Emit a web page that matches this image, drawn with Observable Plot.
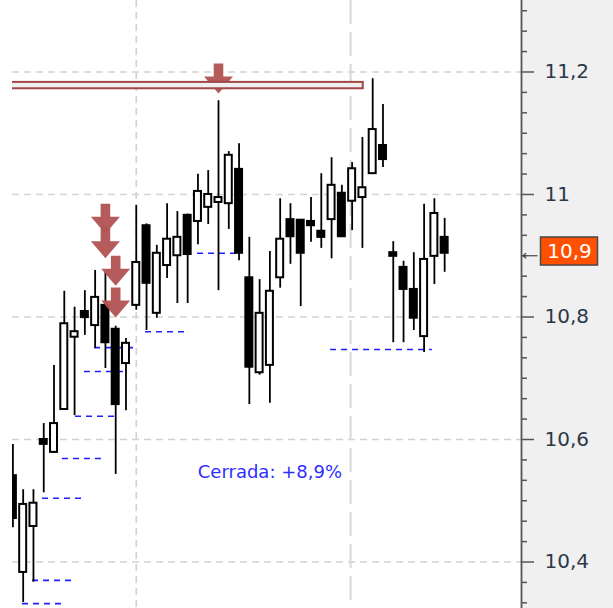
<!DOCTYPE html>
<html><head><meta charset="utf-8">
<script src="https://cdn.jsdelivr.net/npm/d3@7"></script>
<script src="https://cdn.jsdelivr.net/npm/@observablehq/plot@0.6"></script>
<style>
html,body{margin:0;padding:0;background:#fff;}
#chart svg{display:block;}
</style>
</head><body><div id="chart"></div>
<script>
// ---- data ----
const openV  = [10.541,10.383,10.458,10.600,10.579,10.649,10.767,10.809,10.786,10.819,10.780,10.724,10.819,10.949,10.806,10.884,10.900,10.966,10.956,10.979,10.987,10.985,11.041,10.864,10.709,10.721,10.864,10.959,10.958,10.956,10.940,10.959,11.002,10.989,10.995,11.034,11.080,10.905,10.881,10.845,10.768,10.899,10.930];
const highV  = [10.592,10.518,10.518,10.626,10.721,10.842,10.816,10.843,10.876,10.873,10.785,10.765,10.982,10.952,10.917,10.985,10.972,10.968,11.033,11.039,11.153,11.070,11.083,10.930,10.861,10.907,10.993,10.985,10.958,10.995,11.034,11.060,11.015,11.052,11.093,11.189,11.147,10.923,10.891,10.905,10.984,10.993,10.961];
const lowV   = [10.456,10.334,10.367,10.513,10.577,10.649,10.639,10.770,10.749,10.716,10.543,10.647,10.811,10.778,10.798,10.863,10.822,10.822,10.918,10.951,10.843,10.943,10.892,10.657,10.705,10.659,10.847,10.886,10.817,10.922,10.912,10.895,10.931,10.941,10.912,11.034,11.044,10.758,10.758,10.778,10.742,10.853,10.873];
const closeV = [10.471,10.494,10.496,10.592,10.626,10.789,10.776,10.799,10.832,10.758,10.657,10.757,10.889,10.855,10.904,10.927,10.930,10.902,11.005,11.000,10.995,11.064,10.904,10.718,10.806,10.842,10.927,10.931,10.904,10.949,10.930,11.015,10.931,11.042,11.011,11.106,11.057,10.899,10.845,10.798,10.894,10.969,10.904];

// support levels (blue dashed): value, first bar, last bar
const levelValue = [10.332,10.370,10.504,10.569,10.638,10.711,10.750,10.776,10.904,10.747];
const levelStart = [0.93,1.91,2.88,4.82,6.09,6.96,7.94,12.9,17.96,30.9];
const levelEnd   = [4.82,6.09,7.06,9.01,9.98,10.95,11.93,16.98,21.85,40.8];

// signal arrows: bar index and price of the tip
const arrowBar   = [9, 9, 10, 10, 20];
const arrowPrice = [10.936, 10.896, 10.851, 10.799, 11.165];

// resistance zone
const zoneLow = 11.1726, zoneHigh = 11.183, zoneEndBar = 34.08;

// session separators (bar index)
const sessionBreaks = [12, 32.85];

const majorTicks = [10.4, 10.6, 10.8, 11, 11.2];
const tickLabels = ["10,4", "10,6", "10,8", "11", "11,2"];
const lastPrice = 10.9, lastPriceLabel = "10,9";
const caption = "Cerrada: +8,9%";

// ---- build tables ----
const candles = openV.map((o, i) => ({i, open: o, high: highV[i], low: lowV[i], close: closeV[i], up: closeV[i] >= o}));
const levels = levelValue.map((v, k) => ({v, a: levelStart[k], b: levelEnd[k]}));
const arrows = arrowBar.map((b, k) => ({b, p: arrowPrice[k]}));
const minorTicks = d3.range(-2, 28).filter(k => k % 6 !== 0).map(k => 10.4 + k / 30);

// pixel layout of the bars: first bar at 12.4px, 10.28px per bar
const bar0 = 12.4, barW = 10.28;
const toBar = px => (px - bar0) / barW;
const xDomain = [toBar(12), toBar(521)];
const axisBar = xDomain[1];
const yDomain = [10.3241, 11.3167];

const downArrow = {
  draw(ctx) {
    ctx.moveTo(-4.8, -30); ctx.lineTo(4.8, -30); ctx.lineTo(4.8, -17);
    ctx.lineTo(14.5, -17); ctx.lineTo(0, 0); ctx.lineTo(-14.5, -17);
    ctx.lineTo(-4.8, -17); ctx.closePath();
  }
};

const half = 0.34;
const chart = Plot.plot({
  width: 613, height: 608,
  marginLeft: 12, marginRight: 92, marginTop: 0, marginBottom: 0,
  x: {domain: xDomain, axis: null},
  y: {domain: yDomain, axis: null},
  style: {background: "#ffffff", fontFamily: "DejaVu Sans, sans-serif", overflow: "visible"},
  marks: [
    // axis panel background
    Plot.rect([0], {x1: axisBar, x2: toBar(613), y1: yDomain[0], y2: yDomain[1], fill: "#f0f0f0"}),
    // grid
    Plot.ruleY(majorTicks, {stroke: "#d2d2d2", strokeWidth: 1.6, strokeDasharray: "7,5"}),
    Plot.ruleX(sessionBreaks.slice(0, 1), {stroke: "#d2d2d2", strokeWidth: 1.6, strokeDasharray: "7,5"}),
    Plot.ruleX(sessionBreaks.slice(1), {stroke: "#d8d8d8", strokeWidth: 2, strokeDasharray: "24,8"}),
    // support levels
    Plot.ruleY(levels, {y: "v", x1: "a", x2: "b", stroke: "#1f1fff", strokeWidth: 1.6, strokeDasharray: "6,5"}),
    // wicks
    Plot.ruleX(candles, {x: "i", y1: "low", y2: "high", stroke: "#000", strokeWidth: 1.8, clip: true}),
    // bodies
    Plot.rect(candles, {x1: d => d.i - half, x2: d => d.i + half, y1: "open", y2: "close",
      fill: d => d.up ? "#ffffff" : "#000000", stroke: "#000", strokeWidth: 2, clip: true}),
    // arrows
    Plot.dot(arrows, {x: "b", y: "p", symbol: downArrow, fill: "#b25252", fillOpacity: 0.95, stroke: "none"}),
    // resistance zone
    Plot.rect([0], {x1: xDomain[0] - 1, x2: zoneEndBar, y1: zoneLow, y2: zoneHigh,
      fill: "#f0f0f0", stroke: "#a24646", strokeWidth: 2, clip: true}),
    // caption
    Plot.text([caption], {x: 25.0, y: 10.546, text: d => d, fill: "#2e2eff", fontSize: 18, textAnchor: "middle"}),
    // axis line & ticks
    Plot.ruleX([axisBar], {stroke: "#555", strokeWidth: 1.8}),
    Plot.ruleY(minorTicks, {x1: axisBar, x2: toBar(527), stroke: "#555", strokeWidth: 1.5}),
    Plot.axisY({anchor: "right", ticks: majorTicks, tickSize: 12, tickPadding: 11,
      tickFormat: (d) => tickLabels[majorTicks.indexOf(d)], label: null,
      fontSize: 20, fill: "#2b3848", stroke: "#555", strokeWidth: 1.5}),
    // last price marker
    Plot.link([lastPrice], {x1: toBar(537), x2: toBar(524), y1: d => d, y2: d => d, stroke: "#444", strokeWidth: 1.2, markerEnd: "arrow"}),
    Plot.rect([lastPrice], {x1: toBar(540.5), x2: toBar(597.5), y1: d => d + 0.0298, y2: d => d - 0.016,
      fill: "#ff5000", stroke: "#4a4a4a", strokeWidth: 1.5}),
    Plot.text([lastPrice], {x: toBar(569), y: d => d + 0.007, text: () => lastPriceLabel, fill: "#ffffff", fontSize: 20})
  ]
});
document.getElementById("chart").appendChild(chart);
</script>
</body></html>
